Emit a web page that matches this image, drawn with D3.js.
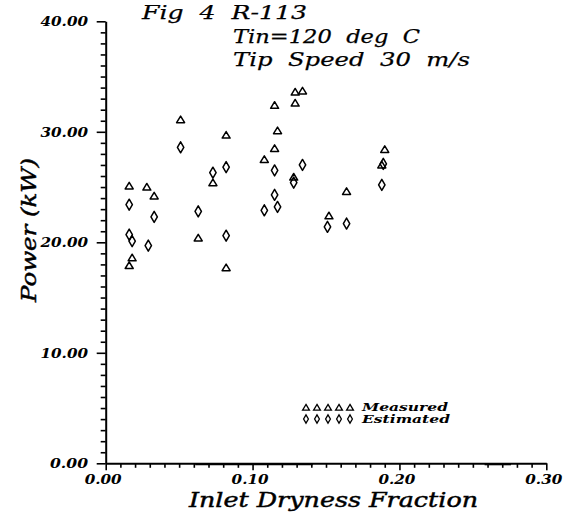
<!DOCTYPE html>
<html>
<head>
<meta charset="utf-8">
<script src="https://cdn.jsdelivr.net/npm/d3@7"></script>
<style>
  html, body { margin: 0; padding: 0; background: #fff; }
  svg { display: block; }
</style>
</head>
<body>
<div id="chart"></div>
<script>
// ---- data ----
const measuredX = [0.016, 0.028, 0.033, 0.018, 0.016, 0.063, 0.073, 0.082, 0.051, 0.082,
                   0.129, 0.134, 0.129, 0.115, 0.117, 0.115, 0.108, 0.128, 0.164, 0.152, 0.190, 0.188];
const measuredY = [25.1, 25.0, 24.2, 18.6, 17.9, 20.4, 25.4, 17.7, 31.1, 29.7,
                   33.6, 33.7, 32.6, 32.4, 30.1, 28.5, 27.5, 25.9, 24.6, 22.4, 28.4, 27.0];
const estimatedX = [0.016, 0.033, 0.016, 0.018, 0.029, 0.063, 0.073, 0.082, 0.082, 0.051,
                    0.115, 0.134, 0.115, 0.117, 0.108, 0.128, 0.151, 0.164, 0.188, 0.189];
const estimatedY = [23.4, 22.3, 20.7, 20.1, 19.7, 22.8, 26.3, 26.8, 20.6, 28.6,
                    26.5, 27.0, 24.3, 23.2, 22.9, 25.4, 21.4, 21.7, 25.2, 27.1];
const xTickValues = [0, 0.1, 0.2, 0.3];
const xTickLabels = ["0.00", "0.10", "0.20", "0.30"];
const yTickValues = [0, 10, 20, 30, 40];
const yTickLabels = ["0.00", "10.00", "20.00", "30.00", "40.00"];
const titleLines = ["Fig  4  R-113", "Tin=120  deg  C", "Tip  Speed  30  m/s"];
const xTitle = "Inlet Dryness Fraction";
const yTitle = "Power (kW)";
const legendLabels = ["Measured", "Estimated"];

// ---- layout ----
const W = 578, H = 515;
const svg = d3.select("#chart").append("svg").attr("width", W).attr("height", H)
  .style("background", "#fff");

const x = d3.scaleLinear().domain([0, 0.3]).range([105.7, 546.3]);
const y = d3.scaleLinear().domain([0, 40]).range([463.3, 21.3]);

const tickFont = "'DejaVu Serif', serif";
const titleFont = "'DejaVu Serif', serif";

// Y axis
const yMinor = d3.range(0, 41, 1);
const yAxis = d3.axisLeft(y).tickValues(yMinor).tickSizeOuter(0).tickFormat("");
const gy = svg.append("g").attr("transform", `translate(${x(0)},0)`).call(yAxis);
gy.select(".domain").attr("stroke", "#000").attr("stroke-width", 2);
gy.selectAll(".tick line").attr("stroke", "#000").attr("stroke-width", 1.6)
  .attr("x2", d => (d % 10 === 0 ? -9 : -5));

// X axis
const xMinor = d3.range(0, 31, 1).map(i => i / 100);
const xAxis = d3.axisBottom(x).tickValues(xMinor).tickSizeOuter(0).tickFormat("");
const gx = svg.append("g").attr("transform", `translate(0,${y(0)})`).call(xAxis);
gx.select(".domain").attr("stroke", "#000").attr("stroke-width", 2);
gx.selectAll(".tick line").attr("stroke", "#000").attr("stroke-width", 1.6)
  .attr("y2", (d, i) => (i % 10 === 0 ? 7 : 4.5));

// y tick labels
svg.append("g").selectAll("text").data(yTickValues).join("text")
  .attr("x", 88).attr("y", d => y(d) + 5)
  .attr("text-anchor", "end")
  .attr("font-family", tickFont).attr("font-style", "italic").attr("font-weight", "bold")
  .attr("font-size", 12.5)
  .attr("textLength", (d, i) => yTickLabels[i].length * 9.5)
  .attr("lengthAdjust", "spacingAndGlyphs")
  .text((d, i) => yTickLabels[i]);

// x tick labels
svg.append("g").selectAll("text").data(xTickValues).join("text")
  .attr("x", d => x(d) - 2.5).attr("y", 484)
  .attr("text-anchor", "middle")
  .attr("font-family", tickFont).attr("font-style", "italic").attr("font-weight", "bold")
  .attr("font-size", 12.5)
  .attr("textLength", 37)
  .attr("lengthAdjust", "spacingAndGlyphs")
  .text((d, i) => xTickLabels[i]);

// axis titles
svg.append("text")
  .attr("x", 189).attr("y", 507)
  .attr("font-family", titleFont).attr("font-style", "italic")
  .attr("stroke", "#000").attr("stroke-width", 0.45)
  .attr("font-size", 20).attr("textLength", 289).attr("lengthAdjust", "spacingAndGlyphs")
  .text(xTitle);

svg.append("text")
  .attr("transform", "translate(36,302) rotate(-90)")
  .attr("font-family", titleFont).attr("font-style", "italic")
  .attr("stroke", "#000").attr("stroke-width", 0.45)
  .attr("font-size", 20).attr("textLength", 144).attr("lengthAdjust", "spacingAndGlyphs")
  .text(yTitle);

// title block
const titlePos = [[142, 19, 165], [233, 43, 187], [233, 66, 237]];
svg.append("g").selectAll("text").data(titleLines).join("text")
  .attr("x", (d, i) => titlePos[i][0]).attr("y", (d, i) => titlePos[i][1])
  .attr("textLength", (d, i) => titlePos[i][2]).attr("lengthAdjust", "spacingAndGlyphs")
  .attr("font-family", titleFont).attr("font-style", "italic")
  .attr("stroke", "#000").attr("stroke-width", 0.25)
  .attr("font-size", 19)
  .style("white-space", "pre")
  .text(d => d);

// scan artefacts: thickened stretches of the x axis
svg.append("g").selectAll("line").data([[0.061, 0.141], [0.258, 0.276]]).join("line")
  .attr("x1", d => x(d[0])).attr("x2", d => x(d[1]))
  .attr("y1", y(0) + 1.2).attr("y2", y(0) + 1.2)
  .attr("stroke", "#000").attr("stroke-width", 1.6);

// markers
const triPath = s => `M0,${-3.6 * s}L${4 * s},${3 * s}L${-4 * s},${3 * s}Z`;
const diaPath = s => `M0,${-5.5 * s}L${3.2 * s},0L0,${5.5 * s}L${-3.2 * s},0Z`;

const measured = measuredX.map((v, i) => ({ x: v, y: measuredY[i] }));
const estimated = estimatedX.map((v, i) => ({ x: v, y: estimatedY[i] }));

svg.append("g").selectAll("path").data(measured).join("path")
  .attr("transform", d => `translate(${x(d.x)},${y(d.y)})`)
  .attr("d", triPath(1))
  .attr("fill", "none").attr("stroke", "#000").attr("stroke-width", 1.5)
  .attr("stroke-linejoin", "round");

svg.append("g").selectAll("path").data(estimated).join("path")
  .attr("transform", d => `translate(${x(d.x)},${y(d.y)})`)
  .attr("d", diaPath(1))
  .attr("fill", "none").attr("stroke", "#000").attr("stroke-width", 1.5)
  .attr("stroke-linejoin", "round");

// legend
const legendRows = [
  { path: triPath(0.85), y: 407.5, label: legendLabels[0], ty: 411, len: 86 },
  { path: diaPath(0.75), y: 419, label: legendLabels[1], ty: 423, len: 88 }
];
legendRows.forEach(r => {
  svg.append("g").selectAll("path").data(d3.range(5)).join("path")
    .attr("transform", k => `translate(${306 + k * 11},${r.y})`)
    .attr("d", r.path)
    .attr("fill", "none").attr("stroke", "#000").attr("stroke-width", 1.3);
  svg.append("text")
    .attr("x", 362).attr("y", r.ty)
    .attr("font-family", titleFont).attr("font-style", "italic").attr("font-weight", "bold")
    .attr("font-size", 10.5).attr("textLength", r.len)
    .attr("lengthAdjust", "spacingAndGlyphs")
    .text(r.label);
});
</script>
</body>
</html>
